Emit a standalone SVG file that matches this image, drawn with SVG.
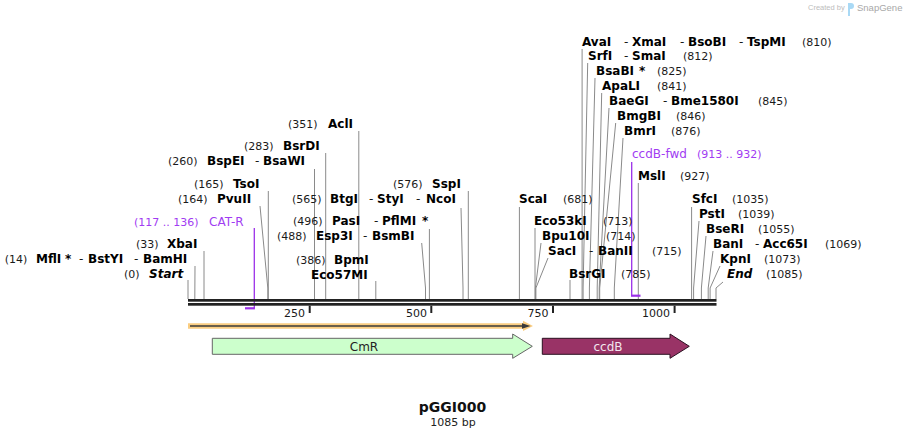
<svg xmlns="http://www.w3.org/2000/svg" width="905" height="438" viewBox="0 0 905 438">
<style>
text{font-family:"DejaVu Sans",Verdana,sans-serif;}
.n{font-size:12px;font-weight:bold;fill:#000;}
.i{font-size:12px;font-weight:bold;font-style:italic;fill:#000;}
.p{font-size:11px;fill:#1a1a1a;}
.d{font-size:12px;fill:#1a1a1a;}
.pr{font-size:12px;fill:#a13cf2;}
.prn{font-size:11px;fill:#a13cf2;}
.cut{fill:none;stroke:#8a8a8a;stroke-width:1;}
.prl{fill:none;stroke:#9b30e8;stroke-width:1.3;}
.prb{fill:none;stroke:#9b30e8;stroke-width:2.2;}
.tk{font-size:11px;fill:#1a1a1a;}
</style>
<rect width="905" height="438" fill="#fff"/>

<g id="watermark">
<text x="808" y="10" style="font-family:'Liberation Sans',Arial,sans-serif;font-size:7.5px;fill:#bdbdbd">Created by</text>
<path d="M848 3 h3 a3 3 0 0 1 0 6 h-1 v7 h-2 z" fill="#a9d9f5"/>
<text x="857" y="11" style="font-family:'Liberation Sans',Arial,sans-serif;font-size:9.5px;fill:#a8a8a8">SnapGene</text>
</g>

<g id="connectors">
<polyline class="cut" points="188,280 188,299"/>
<polyline class="cut" points="195,266 194.8,299"/>
<polyline class="cut" points="204,251 204,299"/>
<polyline class="cut" points="260,206 267.8,288 267.8,299"/>
<polyline class="cut" points="268.3,191 268.3,299"/>
<polyline class="cut" points="314.5,169 314.5,299"/>
<polyline class="cut" points="325.7,153 325.7,299"/>
<polyline class="cut" points="358.8,131 358.8,299"/>
<polyline class="cut" points="375.8,281 375.8,299"/>
<polyline class="cut" points="421.7,243 425.5,288 425.5,299"/>
<polyline class="cut" points="429.4,229 429.4,299"/>
<polyline class="cut" points="461,208 463,288 463,299"/>
<polyline class="cut" points="468.3,191 468.3,299"/>
<polyline class="cut" points="519.4,207 519.4,299"/>
<polyline class="cut" points="535,228 535,299"/>
<polyline class="cut" points="541,243 535.4,288 535.4,299"/>
<polyline class="cut" points="548,258 535.9,288 535.9,299"/>
<polyline class="cut" points="570,280 570,299"/>
<polyline class="cut" points="582.1,49 582.1,299"/>
<polyline class="cut" points="587.7,63 583.1,288 583.1,299"/>
<polyline class="cut" points="595,78 589.4,288 589.4,299"/>
<polyline class="cut" points="601.7,93 597.2,288 597.2,299"/>
<polyline class="cut" points="609,108 599.2,288 599.2,299"/>
<polyline class="cut" points="615.7,123 599.7,288 599.7,299"/>
<polyline class="cut" points="623,138 614.3,288 614.3,299"/>
<polyline class="cut" points="638.3,183 638.3,299"/>
<polyline class="cut" points="691.6,207 691.6,299"/>
<polyline class="cut" points="699,221 693.6,288 693.6,299"/>
<polyline class="cut" points="706,236 701.4,288 701.4,299"/>
<polyline class="cut" points="713,251 708.2,288 708.2,299"/>
<polyline class="cut" points="720,266 710.1,288 710.1,299"/>
<polyline class="cut" points="723,282 716,288 716,299"/>
<polyline class="prl" points="254.3,228 254.3,308.3"/>
<polyline class="prb" points="254.9,308.3 245,308.3"/>
<polyline class="prl" points="631.7,162 631.7,295.7"/>
<polyline class="prb" points="631,295.7 640.5,295.7"/>
</g>

<g id="sequence">
<rect x="188" y="299" width="528.5" height="2.7" fill="#222"/>
<rect x="188" y="303" width="528.5" height="2.7" fill="#222"/>
<g stroke="#222" stroke-width="2">
<line x1="309.7" y1="305.7" x2="309.7" y2="313"/>
<line x1="431.3" y1="305.7" x2="431.3" y2="313"/>
<line x1="553" y1="305.7" x2="553" y2="313"/>
<line x1="674.6" y1="305.7" x2="674.6" y2="313"/>
</g>
<text class="tk" x="305" y="316.5" text-anchor="end">250</text>
<text class="tk" x="427" y="316.5" text-anchor="end">500</text>
<text class="tk" x="548.5" y="316.5" text-anchor="end">750</text>
<text class="tk" x="670" y="316.5" text-anchor="end">1000</text>
</g>

<g id="orf">
<polygon points="188,323.3 523,323.3 523,320.8 533,326 523,331 523,328.7 188,328.7" fill="#f9c46b" opacity="0.85"/>
<line x1="190" y1="326" x2="524" y2="326" stroke="#3a3a3a" stroke-width="1.6"/>
<polygon points="522,323.2 530.5,326 522,328.8" fill="#3a3a3a"/>
</g>

<g id="CmR">
<polygon points="212.3,338.3 512.7,338.3 512.7,334 532.3,346.3 512.7,358.3 512.7,354.3 212.3,354.3" fill="#ccffcc" stroke="#666" stroke-width="1"/>
<text x="364" y="351" text-anchor="middle" style="font-size:12px;fill:#222">CmR</text>
</g>

<g id="ccdB">
<polygon points="542.3,338.3 670,338.3 670,334 689.3,346.3 670,358.3 670,354.3 542.3,354.3" fill="#993366" stroke="#2a1020" stroke-width="1"/>
<text x="608" y="350.5" text-anchor="middle" style="font-size:12px;fill:#f2e6ee">ccdB</text>
</g>

<g id="title">
<text x="452.5" y="412" text-anchor="middle" style="font-size:14px;font-weight:bold;fill:#111">pGGI000</text>
<text x="453" y="425.5" text-anchor="middle" style="font-size:11px;fill:#222">1085 bp</text>
</g>

<g id="site-start"><text y="278"><tspan class="p" x="124">(0)</tspan><tspan class="i" x="149">Start</tspan></text></g>
<g id="site-14"><text y="263"><tspan class="p" x="4.7">(14)</tspan><tspan class="n" x="36">MflI</tspan><tspan class="n" x="65">*</tspan><tspan class="d" x="79">-</tspan><tspan class="n" x="88">BstYI</tspan><tspan class="d" x="134">-</tspan><tspan class="n" x="143">BamHI</tspan></text></g>
<g id="site-33"><text y="248"><tspan class="p" x="136">(33)</tspan><tspan class="n" x="167">XbaI</tspan></text></g>
<g id="primer-CAT-R"><text y="226"><tspan class="prn" x="134">(117 .. 136)</tspan><tspan class="pr" x="209">CAT-R</tspan></text></g>
<g id="site-164"><text y="203"><tspan class="p" x="178">(164)</tspan><tspan class="n" x="217">PvuII</tspan></text></g>
<g id="site-165"><text y="188"><tspan class="p" x="194">(165)</tspan><tspan class="n" x="233">TsoI</tspan></text></g>
<g id="site-260"><text y="165"><tspan class="p" x="168">(260)</tspan><tspan class="n" x="207">BspEI</tspan><tspan class="d" x="255">-</tspan><tspan class="n" x="263">BsaWI</tspan></text></g>
<g id="site-283"><text y="150"><tspan class="p" x="244">(283)</tspan><tspan class="n" x="283">BsrDI</tspan></text></g>
<g id="site-351"><text y="128"><tspan class="p" x="288">(351)</tspan><tspan class="n" x="328">AclI</tspan></text></g>
<g id="site-386"><text y="264"><tspan class="p" x="296">(386)</tspan><tspan class="n" x="334">BpmI</tspan></text><text class="n" x="311" y="279">Eco57MI</text></g>
<g id="site-488"><text y="240"><tspan class="p" x="277">(488)</tspan><tspan class="n" x="316">Esp3I</tspan><tspan class="d" x="363">-</tspan><tspan class="n" x="372">BsmBI</tspan></text></g>
<g id="site-496"><text y="225"><tspan class="p" x="293">(496)</tspan><tspan class="n" x="332">PasI</tspan><tspan class="d" x="374">-</tspan><tspan class="n" x="382">PflMI</tspan><tspan class="n" x="422">*</tspan></text></g>
<g id="site-565"><text y="203"><tspan class="p" x="292">(565)</tspan><tspan class="n" x="330">BtgI</tspan><tspan class="d" x="369">-</tspan><tspan class="n" x="377">StyI</tspan><tspan class="d" x="416">-</tspan><tspan class="n" x="426">NcoI</tspan></text></g>
<g id="site-576"><text y="188"><tspan class="p" x="393">(576)</tspan><tspan class="n" x="432">SspI</tspan></text></g>

<g id="site-681"><text y="203"><tspan class="n" x="519">ScaI</tspan><tspan class="p" x="563">(681)</tspan></text></g>
<g id="site-713"><text y="225"><tspan class="n" x="534">Eco53kI</tspan><tspan class="p" x="603">(713)</tspan></text></g>
<g id="site-714"><text y="240"><tspan class="n" x="542">Bpu10I</tspan><tspan class="p" x="606">(714)</tspan></text></g>
<g id="site-715"><text y="255"><tspan class="n" x="548">SacI</tspan><tspan class="d" x="589">-</tspan><tspan class="n" x="598">BanII</tspan><tspan class="p" x="652">(715)</tspan></text></g>
<g id="site-785"><text y="278"><tspan class="n" x="569">BsrGI</tspan><tspan class="p" x="621">(785)</tspan></text></g>
<g id="site-810"><text y="46"><tspan class="n" x="582">AvaI</tspan><tspan class="d" x="624">-</tspan><tspan class="n" x="632">XmaI</tspan><tspan class="d" x="680">-</tspan><tspan class="n" x="688">BsoBI</tspan><tspan class="d" x="739">-</tspan><tspan class="n" x="747">TspMI</tspan><tspan class="p" x="802">(810)</tspan></text></g>
<g id="site-812"><text y="60"><tspan class="n" x="588">SrfI</tspan><tspan class="d" x="624">-</tspan><tspan class="n" x="632">SmaI</tspan><tspan class="p" x="683">(812)</tspan></text></g>
<g id="site-825"><text y="75"><tspan class="n" x="596">BsaBI</tspan><tspan class="n" x="639">*</tspan><tspan class="p" x="657">(825)</tspan></text></g>
<g id="site-841"><text y="90"><tspan class="n" x="602">ApaLI</tspan><tspan class="p" x="657">(841)</tspan></text></g>
<g id="site-845"><text y="105"><tspan class="n" x="609">BaeGI</tspan><tspan class="d" x="663">-</tspan><tspan class="n" x="671">Bme1580I</tspan><tspan class="p" x="758">(845)</tspan></text></g>
<g id="site-846"><text y="120"><tspan class="n" x="617">BmgBI</tspan><tspan class="p" x="676">(846)</tspan></text></g>
<g id="site-876"><text y="135"><tspan class="n" x="624">BmrI</tspan><tspan class="p" x="671">(876)</tspan></text></g>
<g id="primer-ccdB-fwd"><text y="158"><tspan class="pr" x="632">ccdB-fwd</tspan><tspan class="prn" x="697">(913 .. 932)</tspan></text></g>
<g id="site-927"><text y="180"><tspan class="n" x="638">MslI</tspan><tspan class="p" x="680">(927)</tspan></text></g>
<g id="site-1035"><text y="203"><tspan class="n" x="692">SfcI</tspan><tspan class="p" x="732">(1035)</tspan></text></g>
<g id="site-1039"><text y="218"><tspan class="n" x="699">PstI</tspan><tspan class="p" x="738">(1039)</tspan></text></g>
<g id="site-1055"><text y="233"><tspan class="n" x="706">BseRI</tspan><tspan class="p" x="758">(1055)</tspan></text></g>
<g id="site-1069"><text y="248"><tspan class="n" x="713">BanI</tspan><tspan class="d" x="755">-</tspan><tspan class="n" x="763">Acc65I</tspan><tspan class="p" x="825">(1069)</tspan></text></g>
<g id="site-1073"><text y="263"><tspan class="n" x="720">KpnI</tspan><tspan class="p" x="764">(1073)</tspan></text></g>
<g id="site-end"><text y="278"><tspan class="i" x="727">End</tspan><tspan class="p" x="766">(1085)</tspan></text></g>
</svg>
